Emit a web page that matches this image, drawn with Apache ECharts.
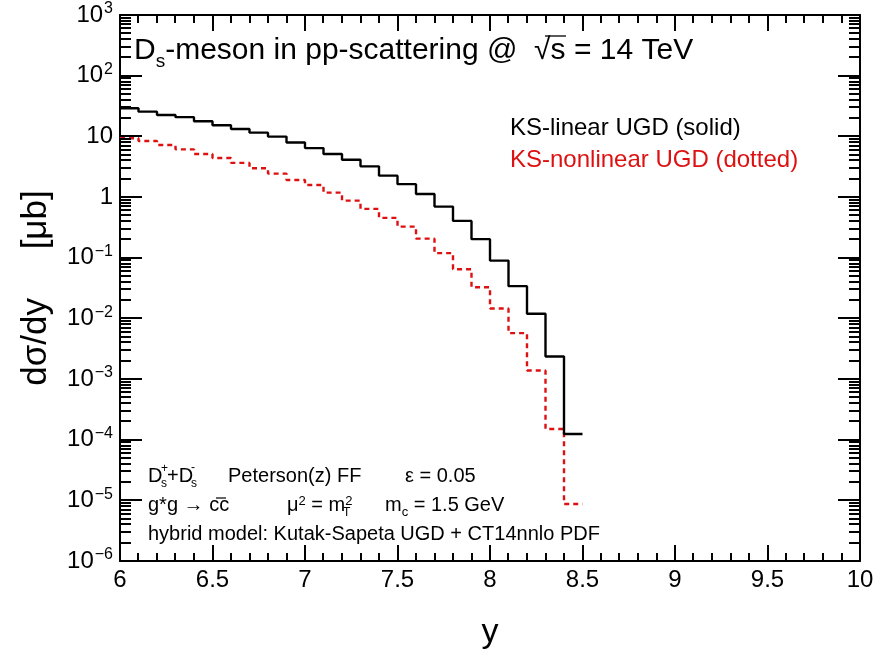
<!DOCTYPE html>
<html>
<head>
<meta charset="utf-8">
<script src="https://cdn.jsdelivr.net/npm/echarts@6/dist/echarts.min.js"></script>
<style>
html,body{margin:0;padding:0;background:#fff;}
#chart{width:882px;height:658px;}
</style>
</head>
<body>
<div id="chart"></div>
<script>
// Bin lower edges (rapidity y), bin width 0.1
var binLow = [6.0, 6.1, 6.2, 6.3, 6.4, 6.5, 6.6, 6.7, 6.8, 6.9,
              7.0, 7.1, 7.2, 7.3, 7.4, 7.5, 7.6, 7.7, 7.8, 7.9,
              8.0, 8.1, 8.2, 8.3, 8.4];
var binHighLast = 8.5;
// KS-linear UGD (solid), dsigma/dy [mub]
var ksLinear = [29.0, 25.5, 22.5, 20.7, 17.7, 15.2, 13.2, 11.5, 9.9, 7.9,
                6.4, 5.1, 4.1, 3.2, 2.25, 1.63, 1.12, 0.695, 0.404, 0.202,
                0.0895, 0.0339, 0.0119, 0.00235, 0.000124];
// KS-nonlinear UGD (dotted)
var ksNonlinear = [9.3, 8.4, 7.2, 6.1, 5.1, 4.4, 3.65, 2.98, 2.43, 1.91,
                   1.58, 1.18, 0.873, 0.637, 0.453, 0.325, 0.206, 0.119, 0.0646, 0.0326,
                   0.0145, 0.0057, 0.00138, 0.000150, 0.0000087];
var xTicks = [6, 6.5, 7, 7.5, 8, 8.5, 9, 9.5, 10];
var yDecades = [-6, -5, -4, -3, -2, -1, 0, 1, 2, 3];

function histPoints(vals) {
  var pts = [];
  for (var i = 0; i < binLow.length; i++) pts.push([binLow[i], vals[i]]);
  pts.push([binHighLast, vals[vals.length - 1]]);
  return pts;
}

var RED = '#dd1111';
var FONT = 'Liberation Sans, Arial, Helvetica, sans-serif';
var XMIN = xTicks[0], XMAX = xTicks[xTicks.length - 1];
var YMIN = Math.pow(10, yDecades[0]), YMAX = Math.pow(10, yDecades[yDecades.length - 1]);

function yLabel(v) {
  var e = Math.round(Math.log(v) / Math.LN10);
  if (e === 0) return '{b|1}';
  if (e === 1) return '{b|10}';
  return '{b|10}{s|' + (e < 0 ? '\u2212' : '') + Math.abs(e) + '}';
}

var axisLineStyle = {show: true, onZero: false, lineStyle: {color: '#000', width: 2}};
var chart = echarts.init(document.getElementById('chart'), null, {renderer: 'canvas'});
var option = {
  backgroundColor: '#fff',
  animation: false,
  grid: {left: 120, right: 22, top: 15, bottom: 97, containLabel: false},
  xAxis: [{
    type: 'value', min: XMIN, max: XMAX, interval: 0.5, position: 'bottom',
    axisLine: axisLineStyle,
    axisTick: {show: false},
    splitLine: {show: false},
    axisLabel: {show: true, margin: 7, color: '#000', fontSize: 24, fontFamily: FONT,
      formatter: function (v) { return String(v); }},
    name: 'y', nameLocation: 'middle', nameGap: 55,
    nameTextStyle: {fontSize: 34, color: '#000', fontFamily: FONT}
  }, {
    type: 'value', min: XMIN, max: XMAX, interval: 0.5, position: 'top',
    axisLine: axisLineStyle, axisTick: {show: false},
    splitLine: {show: false}, axisLabel: {show: false}
  }],
  yAxis: [{
    type: 'log', logBase: 10, min: YMIN, max: YMAX, interval: 1, splitNumber: 9, position: 'left',
    axisLine: axisLineStyle,
    axisTick: {show: false},
    splitLine: {show: false},
    axisLabel: {show: true, margin: 7, color: '#000', fontFamily: FONT, formatter: yLabel,
      rich: {
        b: {fontSize: 24, fontFamily: FONT, color: '#000', lineHeight: 28},
        s: {fontSize: 16, fontFamily: FONT, color: '#000', verticalAlign: 'top', lineHeight: 16, padding: [0, 0, 0, 1]}
      }},
    name: 'd\u03c3/dy     [\u03bcb]', nameLocation: 'middle', nameGap: 66, nameRotate: 90,
    nameTextStyle: {fontSize: 35, color: '#000', fontFamily: FONT}
  }, {
    type: 'log', logBase: 10, min: YMIN, max: YMAX, interval: 1, splitNumber: 9, position: 'right',
    axisLine: axisLineStyle, axisTick: {show: false},
    splitLine: {show: false}, axisLabel: {show: false}
  }],
  series: [{
    name: 'KS-linear UGD (solid)', type: 'line', step: 'end', xAxisIndex: 0, yAxisIndex: 0,
    data: histPoints(ksLinear), showSymbol: false, symbol: 'none',
    lineStyle: {color: '#000', width: 2.4}, z: 3
  }, {
    name: 'KS-nonlinear UGD (dotted)', type: 'line', step: 'end', xAxisIndex: 0, yAxisIndex: 0,
    data: histPoints(ksNonlinear), showSymbol: false, symbol: 'none',
    lineStyle: {color: RED, width: 2.4, type: [5, 4]}, z: 2
  }]
};
chart.setOption(option);

// Text annotations
var g = [
  {type: 'text', left: 134, top: 36, style: {
    text: 'D{sub|s}-meson in pp-scattering @  \u221as = 14 TeV',
    font: '30px ' + FONT, fill: '#000',
    rich: {sub: {fontSize: 19, fontFamily: FONT, verticalAlign: 'bottom', lineHeight: 20, padding: [0, 0, -5, 0]}}
  }},
  {type: 'line', shape: {x1: 545, y1: 36, x2: 566, y2: 36}, style: {stroke: '#000', lineWidth: 1.3}},
  {type: 'text', left: 510, top: 116, style: {text: 'KS-linear UGD (solid)', font: '24px ' + FONT, fill: '#000'}},
  {type: 'text', left: 510, top: 148, style: {text: 'KS-nonlinear UGD (dotted)', font: '24px ' + FONT, fill: RED}},
  {type: 'text', left: 148, top: 466, style: {text: 'D', font: '20px ' + FONT, fill: '#000'}},
  {type: 'text', left: 161, top: 463, style: {text: '+', font: '12px ' + FONT, fill: '#000'}},
  {type: 'text', left: 161, top: 478, style: {text: 's', font: '12px ' + FONT, fill: '#000'}},
  {type: 'text', left: 167, top: 466, style: {text: '+D', font: '20px ' + FONT, fill: '#000'}},
  {type: 'text', left: 191, top: 462, style: {text: '-', font: '12px ' + FONT, fill: '#000'}},
  {type: 'text', left: 191, top: 478, style: {text: 's', font: '12px ' + FONT, fill: '#000'}},
  {type: 'text', left: 228, top: 466, style: {text: 'Peterson(z) FF', font: '20px ' + FONT, fill: '#000'}},
  {type: 'text', left: 405, top: 466, style: {text: '\u03b5 = 0.05', font: '20px ' + FONT, fill: '#000'}},
  {type: 'text', left: 148, top: 495, style: {text: 'g*g \u2192 cc', font: '20px ' + FONT, fill: '#000'}},
  {type: 'line', shape: {x1: 216, y1: 498, x2: 226, y2: 498}, style: {stroke: '#000', lineWidth: 1.2}},
  {type: 'text', left: 287, top: 495, style: {
    text: '\u03bc{sp|2} = m{sp|2}', font: '20px ' + FONT, fill: '#000',
    rich: {sp: {fontSize: 13, fontFamily: FONT, verticalAlign: 'top', lineHeight: 13}}
  }},
  {type: 'text', left: 343, top: 507, style: {text: 'T', font: '12px ' + FONT, fill: '#000'}},
  {type: 'text', left: 385, top: 495, style: {
    text: 'm{sb|c} = 1.5 GeV', font: '20px ' + FONT, fill: '#000',
    rich: {sb: {fontSize: 13, fontFamily: FONT, verticalAlign: 'bottom', lineHeight: 13, padding: [0, 0, -4, 0]}}
  }},
  {type: 'text', left: 148, top: 524, style: {text: 'hybrid model: Kutak-Sapeta UGD + CT14nnlo PDF', font: '20px ' + FONT, fill: '#000'}}
];

// Ticks, positioned through the chart's own axis scales
function toPx(x, y) {
  var p = null;
  try { p = chart.convertToPixel({seriesIndex: 0}, [x, y]); } catch (e) { p = null; }
  if (!p || !isFinite(p[0]) || !isFinite(p[1])) {
    try { p = chart.convertToPixel({gridIndex: 0}, [x, y]); } catch (e) { p = null; }
  }
  if (!p || !isFinite(p[0]) || !isFinite(p[1])) {
    var px = chart.convertToPixel({xAxisIndex: 0}, x);
    var py = chart.convertToPixel({yAxisIndex: 0}, y);
    p = [px, py];
  }
  return p;
}
var tickStyle = {stroke: '#000', lineWidth: 2};
function hTick(v, len) {
  var pL = toPx(XMIN, v), pR = toPx(XMAX, v);
  var yl = Math.round(pL[1]), yr = Math.round(pR[1]);
  g.push({type: 'line', silent: true, z: 10, shape: {x1: pL[0], y1: yl, x2: pL[0] + len, y2: yl}, style: tickStyle});
  g.push({type: 'line', silent: true, z: 10, shape: {x1: pR[0], y1: yr, x2: pR[0] - len, y2: yr}, style: tickStyle});
}
function vTick(xv, len) {
  var pB = toPx(xv, YMIN), pT = toPx(xv, YMAX);
  var xb = Math.round(pB[0]), xt = Math.round(pT[0]);
  g.push({type: 'line', silent: true, z: 10, shape: {x1: xb, y1: pB[1], x2: xb, y2: pB[1] - len}, style: tickStyle});
  g.push({type: 'line', silent: true, z: 10, shape: {x1: xt, y1: pT[1], x2: xt, y2: pT[1] + len}, style: tickStyle});
}
for (var d = yDecades[0]; d < yDecades[yDecades.length - 1]; d++) {
  if (d > yDecades[0]) hTick(Math.pow(10, d), 22);
  for (var m = 2; m <= 9; m++) hTick(m * Math.pow(10, d), 11);
}
for (var i = 0; i < xTicks.length - 1; i++) {
  if (i > 0) vTick(xTicks[i], 16);
  for (var k = 1; k <= 4; k++) vTick(xTicks[i] + k * (xTicks[i + 1] - xTicks[i]) / 5, 8);
}
chart.setOption({graphic: g});
</script>
</body>
</html>
